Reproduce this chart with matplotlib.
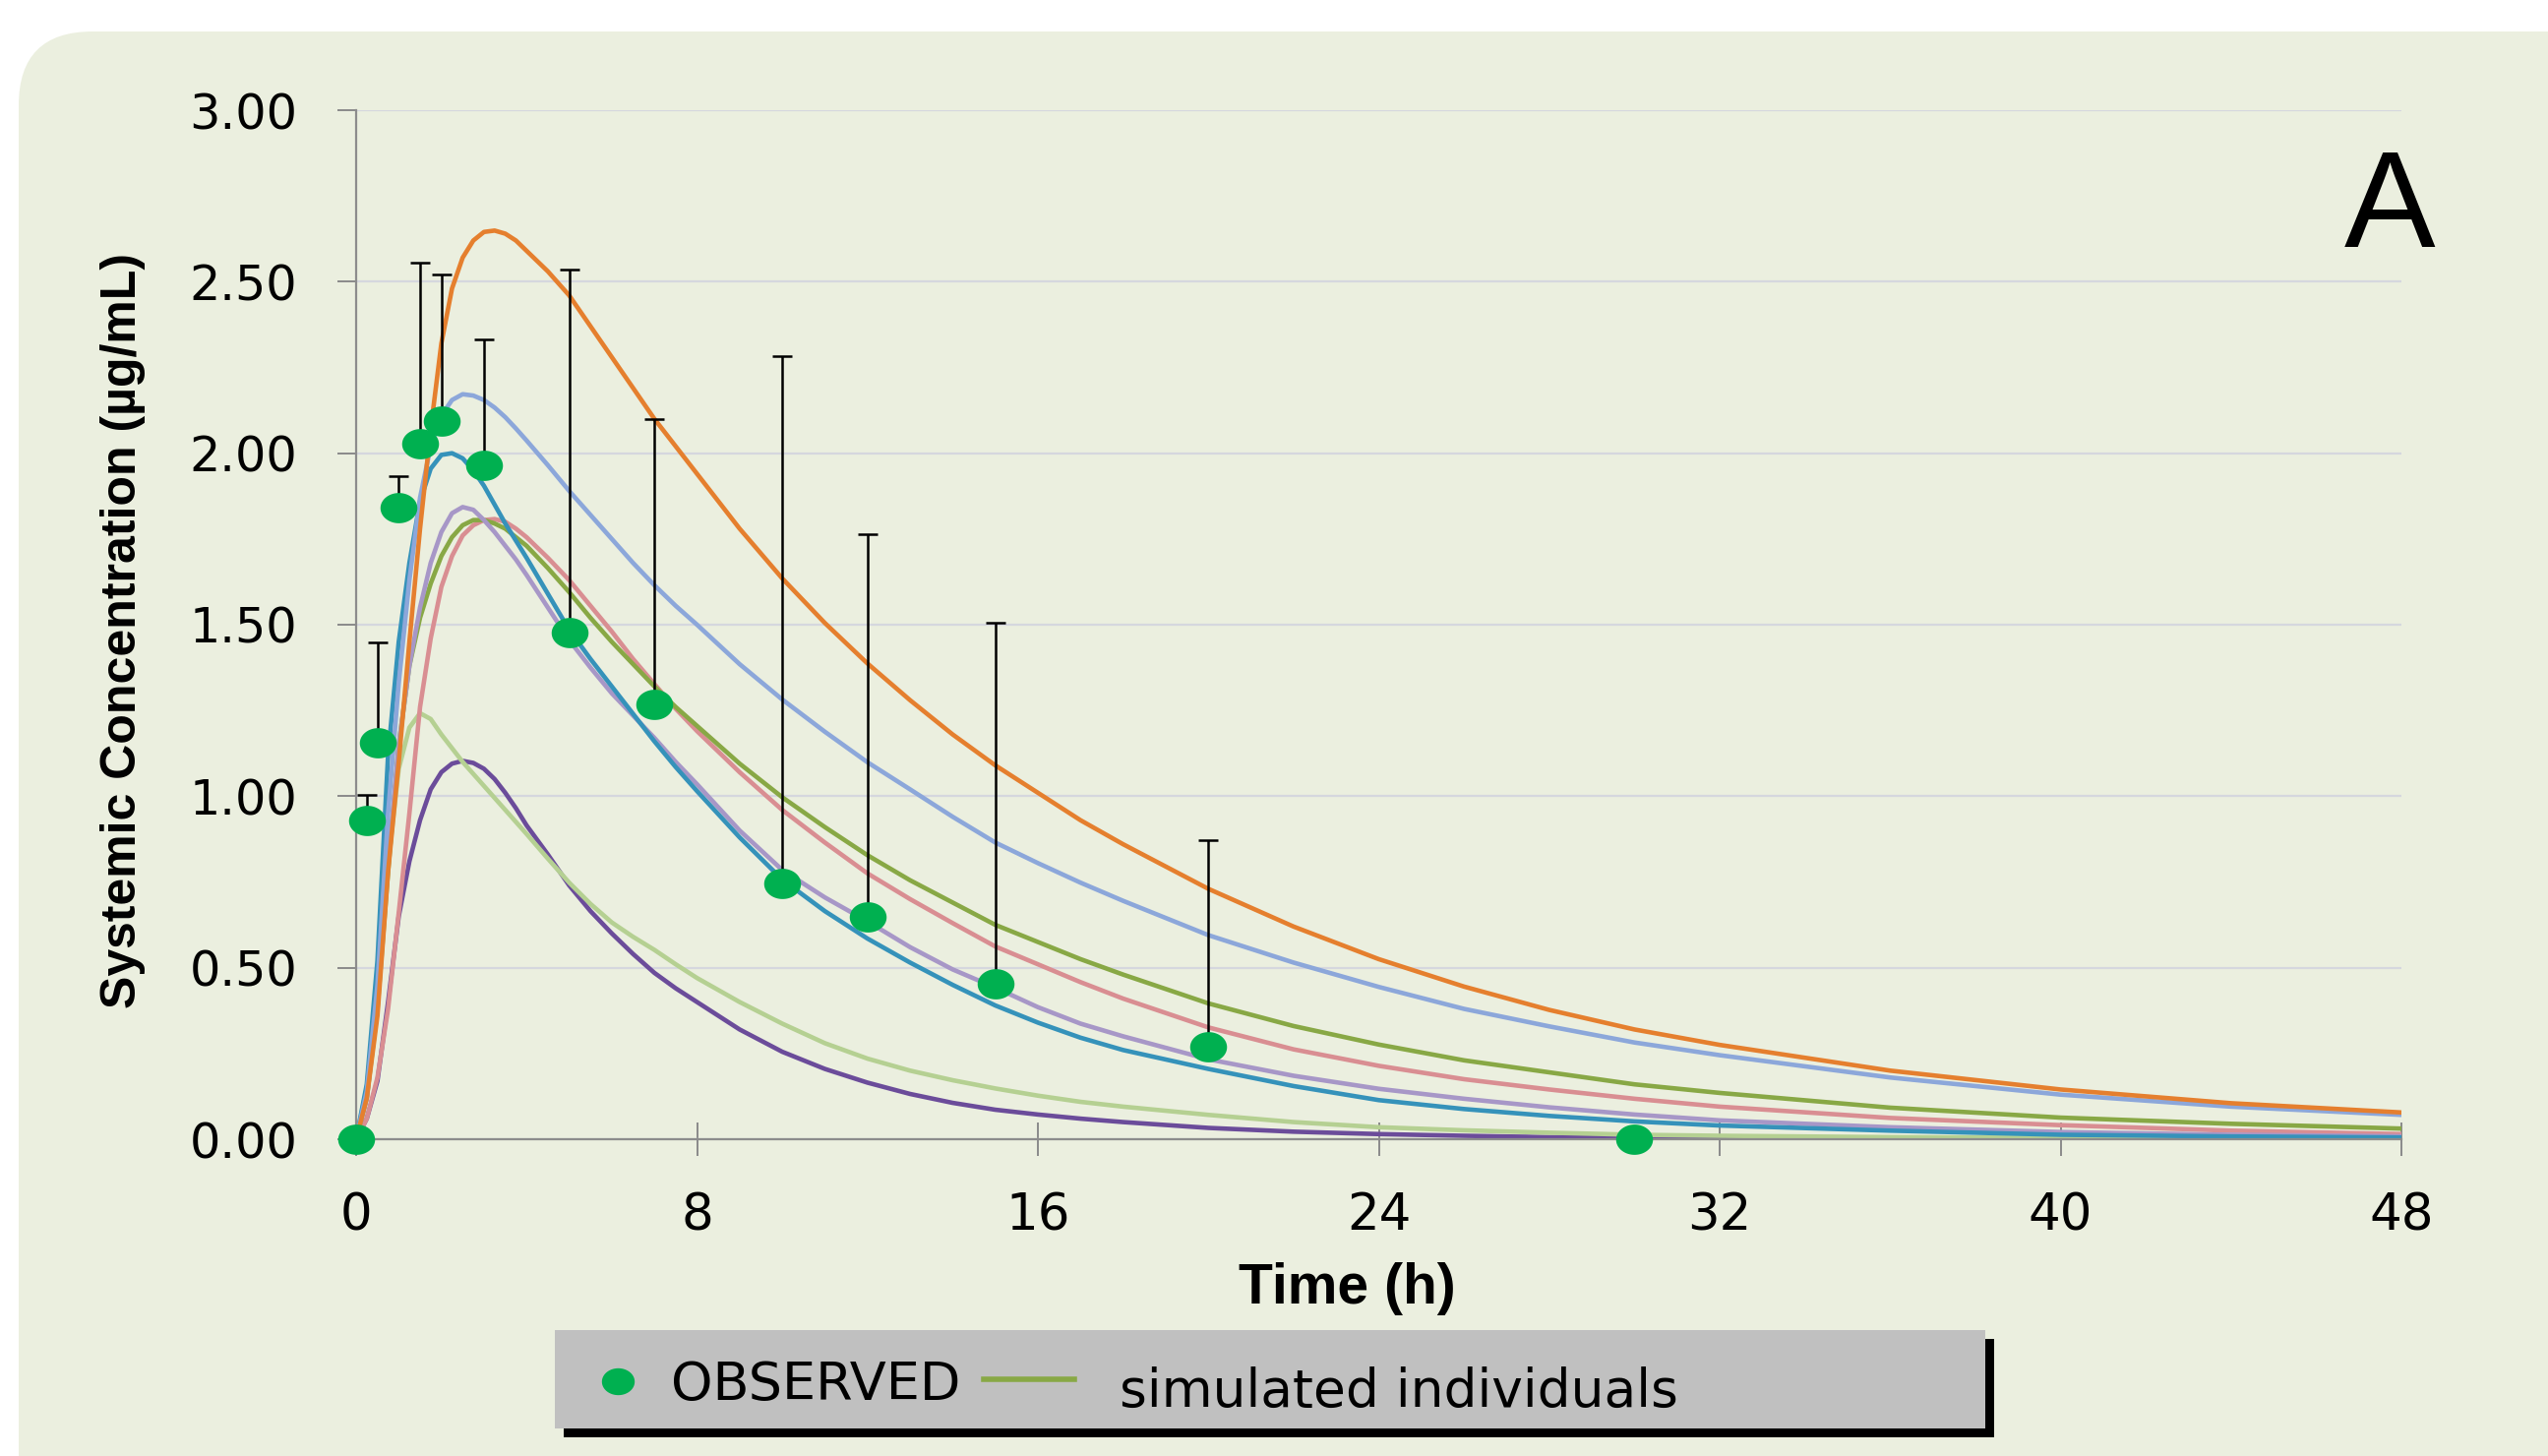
import numpy as np
import matplotlib
matplotlib.use("Agg")
import matplotlib.pyplot as plt
from matplotlib.patches import FancyBboxPatch, Rectangle
from matplotlib.path import Path
from matplotlib.lines import Line2D
from matplotlib.transforms import IdentityTransform
from matplotlib import font_manager

# ---------------- data ----------------
obs_time = [0, 0.25, 0.5, 1, 1.5, 2, 3, 5, 7, 10, 12, 15, 20, 30]
obs_conc = [0.0, 0.93, 1.156, 1.84, 2.027, 2.093, 1.966, 1.477, 1.268, 0.745, 0.647, 0.453, 0.269, 0.0]
obs_upper = [0.0, 1.003, 1.447, 1.932, 2.555, 2.521, 2.333, 2.534, 2.098, 2.282, 1.764, 1.505, 0.871, 0.0]

sim_time = [0, 0.25, 0.5, 0.75, 1, 1.25, 1.5, 1.75, 2, 2.25, 2.5, 2.75, 3, 3.25, 3.5, 3.75,
            4, 4.5, 5, 5.5, 6, 6.5, 7, 7.5, 8,
            9, 10, 11, 12, 13, 14, 15, 16, 17, 18,
            20, 22, 24, 26, 28, 30, 32,
            36, 40, 44, 48]
sim_time_purple = [0, 0.25, 0.5, 0.75, 1, 1.25, 1.5, 1.75, 2, 2.25, 2.5, 2.75, 3, 3.25, 3.5, 3.75,
                   4, 4.5, 5, 5.5, 6, 6.5, 7, 7.5, 8,
                   9, 10, 11, 12, 13, 14, 15, 16, 17, 18,
                   20, 22, 24, 26, 28, 30, 32,
                   35]

sim_orange = [0, 0.12, 0.36, 0.78, 1.10, 1.45, 1.78, 2.07, 2.32, 2.48, 2.57, 2.62, 2.645, 2.649, 2.64, 2.62,
              2.59, 2.53, 2.46, 2.37, 2.28, 2.19, 2.10, 2.02, 1.94,
              1.78, 1.635, 1.505, 1.387, 1.28, 1.18, 1.09, 1.01, 0.93, 0.86,
              0.73, 0.62, 0.525, 0.445, 0.377, 0.32, 0.275,
              0.20, 0.145, 0.105, 0.078]
sim_lightblue = [0, 0.14, 0.45, 0.95, 1.33, 1.63, 1.87, 2.02, 2.11, 2.155, 2.172, 2.168, 2.155, 2.133, 2.105, 2.072,
                 2.037, 1.965, 1.89, 1.82, 1.75, 1.68, 1.615, 1.555, 1.50,
                 1.385, 1.282, 1.188, 1.099, 1.02, 0.94, 0.865, 0.805, 0.748, 0.695,
                 0.595, 0.515, 0.444, 0.38, 0.329, 0.282, 0.245,
                 0.18, 0.13, 0.095, 0.071]
sim_teal = [0, 0.16, 0.52, 1.12, 1.45, 1.68, 1.86, 1.955, 1.995, 2.0, 1.985, 1.95, 1.905, 1.85, 1.795, 1.745,
            1.695, 1.59, 1.485, 1.40, 1.32, 1.24, 1.16, 1.085, 1.015,
            0.88, 0.757, 0.665, 0.585, 0.515, 0.45, 0.39, 0.34, 0.296, 0.26,
            0.205, 0.155, 0.114, 0.088, 0.068, 0.052, 0.04,
            0.025, 0.013, 0.008, 0.005]
sim_lavender = [0, 0.12, 0.40, 0.80, 1.15, 1.38, 1.55, 1.68, 1.77, 1.825, 1.843, 1.835, 1.805, 1.77, 1.73, 1.69,
                1.645, 1.55, 1.455, 1.375, 1.30, 1.235, 1.17, 1.10, 1.035,
                0.90, 0.785, 0.705, 0.635, 0.56, 0.495, 0.442, 0.385, 0.337, 0.30,
                0.233, 0.185, 0.147, 0.118, 0.093, 0.072, 0.055,
                0.035, 0.021, 0.013, 0.0086]
sim_green = [0, 0.12, 0.38, 0.78, 1.15, 1.38, 1.52, 1.62, 1.70, 1.755, 1.79, 1.805, 1.805, 1.795, 1.78, 1.755,
             1.73, 1.665, 1.595, 1.52, 1.45, 1.385, 1.32, 1.26, 1.205,
             1.095, 0.997, 0.91, 0.828, 0.755, 0.69, 0.625, 0.575, 0.525, 0.48,
             0.396, 0.33, 0.276, 0.23, 0.195, 0.16, 0.135,
             0.092, 0.063, 0.045, 0.031]
sim_pink = [0, 0.06, 0.18, 0.38, 0.66, 0.95, 1.26, 1.46, 1.61, 1.70, 1.76, 1.79, 1.805, 1.808, 1.80, 1.78,
            1.755, 1.695, 1.63, 1.555, 1.48, 1.40, 1.327, 1.255, 1.19,
            1.07, 0.96, 0.865, 0.775, 0.70, 0.63, 0.562, 0.51, 0.458, 0.41,
            0.326, 0.262, 0.214, 0.175, 0.145, 0.118, 0.095,
            0.062, 0.041, 0.025, 0.015]
sim_lightgreen = [0, 0.15, 0.45, 0.80, 1.08, 1.20, 1.242, 1.225, 1.18, 1.14, 1.10, 1.065, 1.03, 0.995, 0.96, 0.925,
                  0.89, 0.818, 0.748, 0.686, 0.632, 0.59, 0.552, 0.51, 0.47,
                  0.40, 0.337, 0.28, 0.235, 0.20, 0.172, 0.148, 0.127, 0.109, 0.095,
                  0.071, 0.05, 0.035, 0.026, 0.019, 0.013, 0.01,
                  0.006, 0.004, 0.003, 0.002]
sim_purple = [0, 0.06, 0.17, 0.40, 0.65, 0.81, 0.93, 1.02, 1.07, 1.095, 1.103, 1.097, 1.08, 1.05, 1.01, 0.965,
              0.915, 0.83, 0.74, 0.665, 0.60, 0.54, 0.485, 0.44, 0.40,
              0.32, 0.255, 0.205, 0.165, 0.132, 0.106, 0.086, 0.072, 0.06, 0.05,
              0.033, 0.022, 0.015, 0.01, 0.006, 0.005, 0.004,
              0.003]

x_ticks = [0, 8, 16, 24, 32, 40, 48]
y_ticks = [0.0, 0.5, 1.0, 1.5, 2.0, 2.5, 3.0]
x_label = "Time (h)"
y_label = "Systemic Concentration (\u00b5g/mL)"
legend_labels = ["OBSERVED", "simulated individuals"]
panel_letter = "A"

# ---------------- styling ----------------
W, H = 2590, 1480
fig = plt.figure(figsize=(W / 100, H / 100), dpi=100)
fig.patch.set_facecolor("white")

names = {f.name for f in font_manager.fontManager.ttflist}
if "Liberation Sans Narrow" in names:
    ylab_family, ylab_size = ["Liberation Sans Narrow", "DejaVu Sans"], 44
else:
    ylab_family, ylab_size = ["Liberation Sans", "DejaVu Sans"], 36

panel = FancyBboxPatch((19, -150), 2700, 1448 + 150,
                       boxstyle="round,pad=0,rounding_size=75",
                       transform=IdentityTransform(), facecolor="#EBEFDF",
                       edgecolor="none", zorder=-10)
fig.patches.append(panel)

ax = fig.add_axes([362 / W, 1 - 1158 / H, (2441 - 362) / W, (1158 - 112) / H])
ax.set_zorder(1)
ax.patch.set_alpha(0)

curves = [
    (sim_time_purple, sim_purple, "#6B4C9A"),
    (sim_time, sim_lightgreen, "#B5D092"),
    (sim_time, sim_pink, "#D98E92"),
    (sim_time, sim_green, "#88A845"),
    (sim_time, sim_lavender, "#A797C7"),
    (sim_time, sim_teal, "#3592BA"),
    (sim_time, sim_lightblue, "#8CA7DA"),
    (sim_time, sim_orange, "#E57F2E"),
]
for t, c, col in curves:
    ax.plot(t, c, color=col, lw=3.3, zorder=2, solid_joinstyle="round")

# ellipse marker (wider than tall)
theta = np.linspace(0, 2 * np.pi, 80)
ell = Path(np.column_stack([np.cos(theta), 0.82 * np.sin(theta)]))

ot = np.array(obs_time)
oc = np.array(obs_conc)
ou = np.array(obs_upper)
has_err = ou > oc
ax.errorbar(ot[has_err], oc[has_err],
            yerr=[np.zeros(has_err.sum()), (ou - oc)[has_err]],
            fmt="none", ecolor="black", elinewidth=1.8, capsize=7.5, capthick=1.8,
            zorder=3)
ax.plot(ot, oc, linestyle="none", marker=ell, ms=27, color="#00B050",
        markeredgewidth=0, zorder=4, clip_on=False)

ax.set_xlim(0, 48)
ax.set_ylim(0, 3.0)
ax.set_xticks(x_ticks)
ax.set_xticklabels([str(v) for v in x_ticks])
ax.set_yticks(y_ticks)
ax.set_yticklabels([f"{v:.2f}" for v in y_ticks])
ax.tick_params(axis="x", direction="inout", length=25, width=1.4, color="#8A8A8A",
               pad=26, labelsize=37)
ax.tick_params(axis="y", direction="out", length=14, width=1.4, color="#8A8A8A",
               pad=29, labelsize=35.5)
ax.yaxis.grid(True, color="#D5D7DE", lw=1.6)
ax.set_axisbelow(True)
for s in ["top", "right"]:
    ax.spines[s].set_visible(False)
for s in ["left", "bottom"]:
    ax.spines[s].set_color("#8C8C8C")
    ax.spines[s].set_linewidth(1.6)

fig.text(125 / W, 1 - 641 / H, y_label, rotation=90, ha="center", va="center",
         fontsize=ylab_size, fontweight="bold", family=ylab_family)
fig.text(1369 / W, 1 - 1310 / H, x_label, ha="center", va="center",
         fontsize=41, fontweight="bold", family=["Liberation Sans", "DejaVu Sans"])
fig.text(2429 / W, 1 - 251 / H, panel_letter, ha="center", va="baseline",
         fontsize=100, family=["Liberation Sans", "DejaVu Sans"])

# legend box
fig.patches.append(Rectangle((573, H - 1461), 1454, 100, transform=IdentityTransform(),
                             facecolor="black", edgecolor="none", zorder=5))
fig.patches.append(Rectangle((564, H - 1452), 1454, 100, transform=IdentityTransform(),
                             facecolor="#C0C0C0", edgecolor="none", zorder=6))
fig.add_artist(Line2D([628 / W], [1 - 1404 / H], marker=ell, ms=24, color="#00B050",
                      markeredgewidth=0, transform=fig.transFigure, zorder=7))
fig.add_artist(Line2D([1000 / W, 1092 / W], [1 - 1402 / H, 1 - 1402 / H], color="#88A845",
                      lw=4, transform=fig.transFigure, zorder=7))
fig.text(682 / W, 1 - 1423 / H, legend_labels[0], ha="left", va="baseline",
         fontsize=39, zorder=8)
fig.text(1138 / W, 1 - 1430 / H, legend_labels[1], ha="left", va="baseline",
         fontsize=38.5, zorder=8)

fig.savefig("out.png", dpi=100, facecolor=fig.get_facecolor())
